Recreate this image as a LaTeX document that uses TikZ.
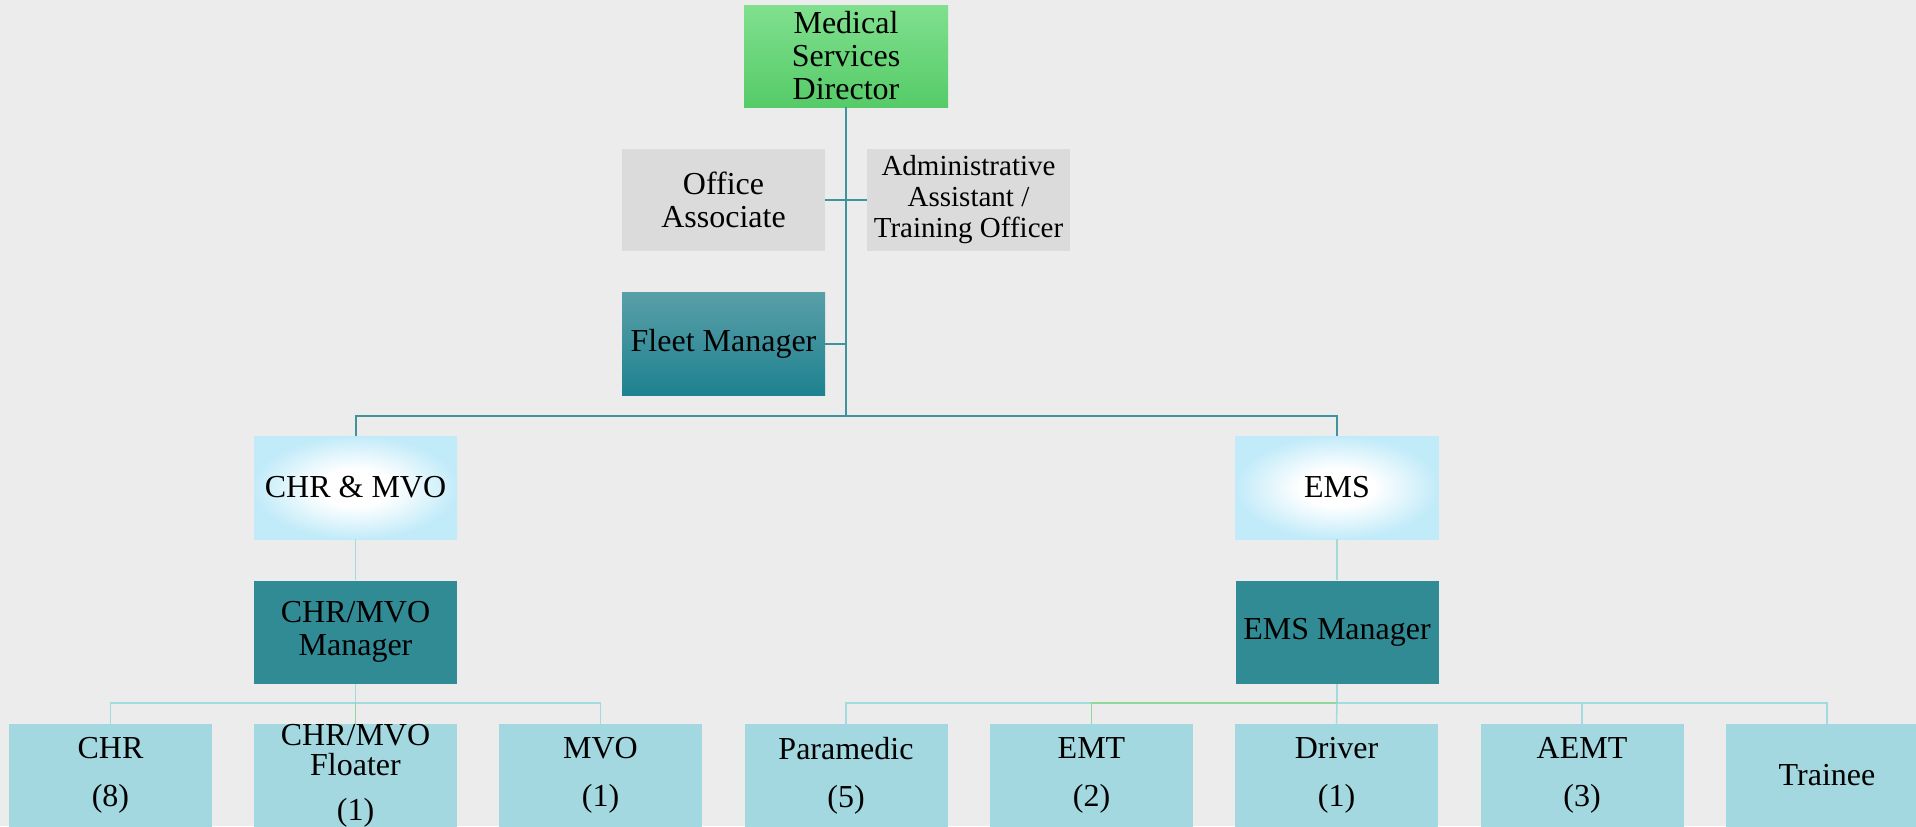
\documentclass[tikz,border=0pt]{standalone}
\usepackage{fontspec}
\setmainfont{Liberation Serif}
\usetikzlibrary{shapes}
\definecolor{bgc}{HTML}{ECECEC}
\definecolor{dirtop}{HTML}{80E08E}
\definecolor{dirbot}{HTML}{55CB68}
\definecolor{staffc}{HTML}{DBDBDB}
\definecolor{fleettop}{HTML}{599FA8}
\definecolor{fleetbot}{HTML}{1E8290}
\definecolor{unitc}{HTML}{C2EBF9}
\definecolor{mgrc}{HTML}{318B95}
\definecolor{crewc}{HTML}{A3D8E0}
\definecolor{linkc}{HTML}{3F949C}
\definecolor{sublinkc}{HTML}{A3DADE}
\definecolor{greenlinkc}{HTML}{8FD89A}
\pgfdeclareradialshading{unitshade}{\pgfpoint{0bp}{0bp}}{color(0bp)=(white); color(9bp)=(white); color(25bp)=(unitc); color(50bp)=(unitc)}
\tikzset{
        box/.style={minimum width=101.5pt, minimum height=51.5pt, inner sep=0pt, align=center, font=\fontsize{16}{16.5}\selectfont},
        topbox/.style={box, top color=dirtop, bottom color=dirbot, minimum width=102pt, minimum height=51pt},
        staffbox/.style={box, fill=staffc, minimum height=51pt},
        fleetbox/.style={box, top color=fleettop, bottom color=fleetbot},
        unitbox/.style={box, shading=unitshade},
        mgrbox/.style={box, fill=mgrc},
        crewbox/.style={box, fill=crewc, font=\fontsize{16}{15}\selectfont},
        link/.style={draw=linkc, line width=1pt},
        sublink/.style={draw=sublinkc, line width=0.75pt},
        greenlink/.style={draw=greenlinkc, line width=0.75pt}
    }

\begin{document}
\begin{tikzpicture}[x=0.5pt, y=-0.5pt]
            \useasboundingbox (0,0) rectangle (1916,826);
            \fill[bgc] (0,0) rectangle (1916,826);

            \coordinate (bus) at (846,416);
            \coordinate (chrbus) at (355.5,703);
            \coordinate (emsbus) at (1337,703);

            \node [topbox] (dir) at (846, 56) {Medical\\Services\\Director};
            \node [staffbox] (office) at (723.5, 200) {Office\\Associate};
            \node [staffbox, font=\fontsize{14.5}{15.5}\selectfont] (admin) at (968.5, 200) {Administrative\\Assistant /\\Training Officer};
            \node [fleetbox] (fleet) at (723.5, 343.5) {Fleet Manager};

            \node [unitbox] (chrmvo) at (355.5, 487.5) {CHR \& MVO};
            \node [unitbox] (ems) at (1337, 487.5) {EMS};
            \node [mgrbox] (chrmgr) at (355.5, 632) {CHR/MVO\\Manager};
            \node [mgrbox] (emsmgr) at (1337, 632) {EMS Manager};

            \node [crewbox] (chr) at (110.5, 775.5) {CHR\\[9pt](8)};
            \node [crewbox] (floater) at (355.5, 775.5) {CHR/MVO\\Floater\\[7.5pt](1)};
            \node [crewbox] (mvo) at (600.5, 775.5) {MVO\\[9pt](1)};
            \node [crewbox] (para) at (846, 775.5) {Paramedic\\[9pt](5)};
            \node [crewbox] (emt) at (1091.5, 775.5) {EMT\\[9pt](2)};
            \node [crewbox] (driver) at (1336.5, 775.5) {Driver\\[9pt](1)};
            \node [crewbox] (aemt) at (1582, 775.5) {AEMT\\[9pt](3)};
            \node [crewbox] (trainee) at (1827, 775.5) {Trainee};

            \draw [link] (dir.south) -- (dir.south |- bus);
            \draw [link] (office.east) -- (admin.west);
            \draw [link] (fleet.east) -- (dir.south |- fleet.east);
            \draw [link] (chrmvo.north) |- (bus) -| (ems.north);

            \draw [sublink] (chrmvo.south) -- (chrmgr.north);
            \draw [sublink] (ems.south) -- (emsmgr.north);

            \draw [sublink] (chrmgr.south) -- (chrbus);
            \draw [sublink] (chr.north) |- (chrbus) -| (mvo.north);
            \draw [greenlink] (chrbus) -- (floater.north);

            \draw [sublink] (emsmgr.south) -- (emsbus);
            \draw [sublink] (para.north) |- (emsbus) -| (trainee.north);
            \draw [sublink] (emsbus) -- (driver.north);
            \draw [sublink] (emsbus -| aemt.north) -- (aemt.north);
            \draw [greenlink] (emsbus) -| (emt.north);
        \end{tikzpicture}
\end{document}
